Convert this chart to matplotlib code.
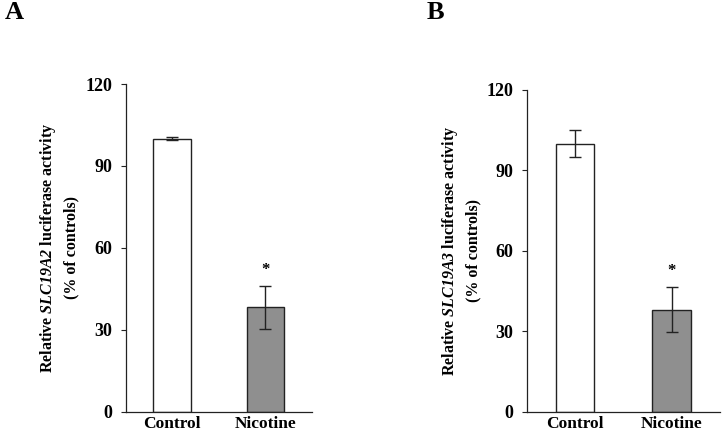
import matplotlib
matplotlib.use("Agg")
import matplotlib.pyplot as plt

plt.rcParams["font.family"] = ["Liberation Serif", "DejaVu Serif"]
plt.rcParams["font.weight"] = "bold"
plt.rcParams["mathtext.fontset"] = "custom"
plt.rcParams["mathtext.rm"] = "Liberation Serif:bold:italic"
plt.rcParams["mathtext.it"] = "Liberation Serif:bold:italic"

categories = ["Control", "Nicotine"]
bar_colors = ["white", "#8f8f8f"]

# panel A: SLC19A2
values_a = [100.0, 38.2]
errors_a = [0.5, 7.9]
# panel B: SLC19A3
values_b = [100.0, 38.1]
errors_b = [5.1, 8.5]

yticks = [0, 30, 60, 90, 120]

fig = plt.figure(figsize=(7.23, 4.36), dpi=100)
ax_a = fig.add_axes([0.1736, 0.0557, 0.2576, 0.7516])
ax_b = fig.add_axes([0.7285, 0.0557, 0.2675, 0.7380])


def draw_panel(ax, vals, errs, gene):
    xs = [0.5, 1.5]
    ax.bar(xs, vals, width=0.4, color=bar_colors, edgecolor="#222222",
           linewidth=1.0, zorder=2)
    ax.errorbar(xs, vals, yerr=errs, fmt="none", ecolor="#222222",
                elinewidth=1.0, capsize=4.5, capthick=1.0, zorder=3)
    # significance star above the nicotine bar
    ax.text(xs[1], vals[1] + errs[1] + 3.0, "*", ha="center", va="bottom",
            fontsize=12, fontweight="bold")
    ax.set_xlim(0, 2)
    ax.set_ylim(0, 120)
    ax.set_xticks(xs)
    ax.set_xticklabels(categories, fontsize=12.5, fontweight="bold")
    ax.set_yticks(yticks)
    ax.set_yticklabels([str(t) for t in yticks], fontsize=13, fontweight="bold")
    ax.tick_params(axis="y", direction="out", length=3.5, width=0.8, pad=6,
                   color="#222222")
    ax.tick_params(axis="x", length=0, pad=3)
    for s in ["top", "right"]:
        ax.spines[s].set_visible(False)
    for s in ["left", "bottom"]:
        ax.spines[s].set_color("#222222")
        ax.spines[s].set_linewidth(0.9)
    ax.set_ylabel("Relative $\\mathrm{" + gene + "}$ luciferase activity\n(% of controls)",
                  fontsize=11.5, fontweight="bold", linespacing=1.45, labelpad=4)


draw_panel(ax_a, values_a, errors_a, "SLC19A2")
draw_panel(ax_b, values_b, errors_b, "SLC19A3")

fig.text(0.006, 0.997, "A", fontsize=19, fontweight="bold", va="top", ha="left")
fig.text(0.590, 0.997, "B", fontsize=19, fontweight="bold", va="top", ha="left")

fig.savefig("out.png", dpi=100)
